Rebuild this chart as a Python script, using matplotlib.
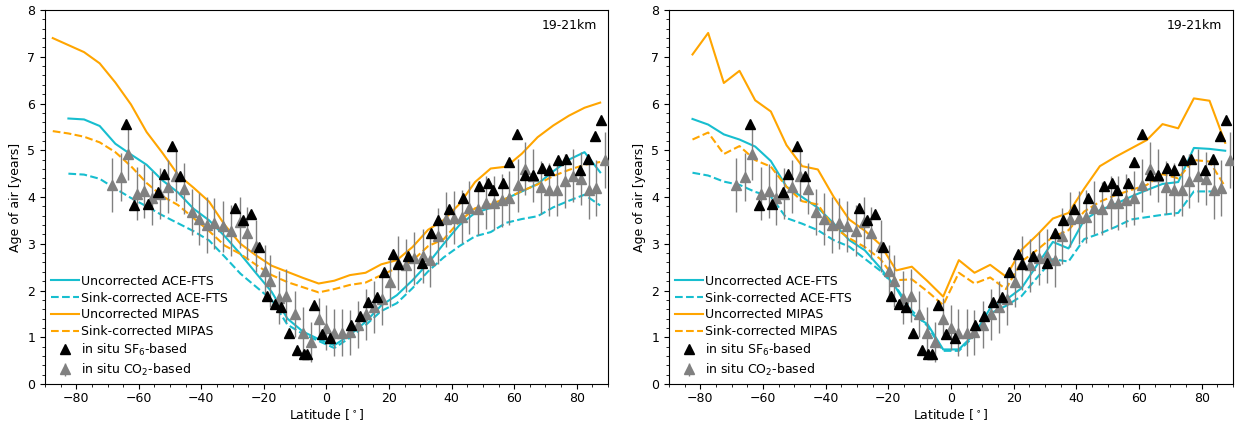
import matplotlib
matplotlib.use("Agg")
import matplotlib.pyplot as plt
from matplotlib.ticker import MultipleLocator

plt.rcParams['font.size'] = 9

# satellite zonal means, 5 degree bins
lat_left = [-87.5, -82.5, -77.5, -72.5, -67.5, -62.5, -57.5, -52.5, -47.5, -42.5, -37.5, -32.5,
            -27.5, -22.5, -17.5, -12.5, -7.5, -2.5, 2.5, 7.5, 12.5, 17.5, 22.5, 27.5, 32.5,
            37.5, 42.5, 47.5, 52.5, 57.5, 62.5, 67.5, 72.5, 77.5, 82.5, 87.5]
lat_ace = lat_left[1:]
lat_right = lat_left[1:]

# left panel
mipas_unc_l = [7.40, 7.25, 7.10, 6.86, 6.45, 5.98, 5.39, 4.95, 4.48, 4.20, 3.90, 3.40,
               3.00, 2.75, 2.53, 2.40, 2.27, 2.15, 2.21, 2.33, 2.38, 2.56, 2.65, 2.93,
               3.30, 3.51, 3.85, 4.32, 4.61, 4.65, 4.93, 5.28, 5.53, 5.74, 5.91, 6.02]
mipas_sink_l = [5.41, 5.36, 5.29, 5.17, 4.96, 4.66, 4.30, 4.02, 3.83, 3.55, 3.27, 2.96,
                2.78, 2.55, 2.33, 2.18, 2.07, 1.96, 2.03, 2.12, 2.17, 2.33, 2.48, 2.64,
                2.95, 3.10, 3.48, 3.76, 3.85, 3.97, 4.13, 4.27, 4.45, 4.58, 4.69, 4.75]
ace_unc_l = [5.68, 5.66, 5.52, 5.14, 4.91, 4.69, 4.36, 4.10, 3.75, 3.50, 3.16, 2.78,
             2.37, 1.97, 1.40, 1.12, 0.96, 0.83, 1.05, 1.33, 1.68, 1.90, 2.22, 2.58,
             3.00, 3.40, 3.66, 3.77, 3.97, 4.12, 4.28, 4.55, 4.80, 4.96, 4.53]
ace_sink_l = [4.50, 4.48, 4.39, 4.18, 3.98, 3.80, 3.61, 3.44, 3.27, 3.07, 2.72, 2.36,
              2.08, 1.80, 1.27, 1.07, 0.92, 0.77, 0.99, 1.26, 1.56, 1.73, 2.05, 2.41,
              2.71, 2.95, 3.16, 3.25, 3.45, 3.53, 3.59, 3.78, 3.92, 4.05, 3.82]

# right panel
mipas_unc_r = [7.05, 7.51, 6.44, 6.70, 6.07, 5.83, 5.11, 4.66, 4.59, 4.01, 3.52, 3.28,
               2.98, 2.43, 2.51, 2.20, 1.87, 2.65, 2.38, 2.55, 2.30, 2.87, 3.19, 3.54,
               3.66, 4.18, 4.66, 4.86, 5.04, 5.22, 5.56, 5.47, 6.11, 6.06, 5.16]
mipas_sink_r = [5.23, 5.38, 4.92, 5.09, 4.79, 4.65, 4.22, 3.91, 3.84, 3.36, 3.12, 2.93,
                2.67, 2.22, 2.24, 1.98, 1.69, 2.38, 2.15, 2.28, 2.03, 2.62, 2.87, 3.15,
                3.29, 3.69, 3.90, 4.04, 4.15, 4.26, 4.49, 4.40, 4.79, 4.76, 4.22]
ace_unc_r = [5.67, 5.55, 5.34, 5.23, 5.08, 4.77, 4.22, 4.00, 3.77, 3.44, 3.08, 2.86,
             2.48, 2.05, 1.50, 1.28, 0.74, 0.74, 1.07, 1.62, 1.80, 2.05, 2.55, 3.04,
             2.90, 3.51, 3.72, 3.85, 4.01, 4.15, 4.28, 4.32, 5.05, 5.03, 4.99]
ace_sink_r = [4.52, 4.46, 4.33, 4.26, 4.11, 4.01, 3.55, 3.43, 3.29, 3.08, 2.94, 2.68,
              2.42, 2.07, 1.57, 1.24, 0.71, 0.71, 1.03, 1.51, 1.67, 1.88, 2.28, 2.67,
              2.62, 3.10, 3.22, 3.36, 3.52, 3.57, 3.62, 3.66, 4.12, 4.12, 4.09]

# in situ balloon/aircraft data
sf6_lat = [-64.0, -61.4, -57.1, -53.7, -51.9, -49.3, -46.7, -29.3, -26.7, -24.1, -21.7, -19.0,
           -16.5, -14.4, -12.1, -9.4, -7.3, -6.2, -4.1, -1.5, 1.2, 7.7, 10.6, 13.3, 16.2,
           18.4, 21.3, 22.8, 26.1, 30.5, 33.3, 35.8, 39.2, 43.7, 48.8, 51.5, 53.1, 56.5,
           58.4, 60.9, 63.6, 66.1, 68.9, 71.3, 73.9, 76.6, 80.9, 83.6, 86.0, 87.8]
sf6_age = [5.57, 3.82, 3.85, 4.10, 4.49, 5.10, 4.46, 3.77, 3.50, 3.63, 2.94, 1.89,
           1.71, 1.65, 1.09, 0.73, 0.65, 0.65, 1.68, 1.07, 0.99, 1.26, 1.46, 1.75, 1.87,
           2.39, 2.79, 2.57, 2.74, 2.59, 3.22, 3.51, 3.75, 3.97, 4.23, 4.29, 4.16, 4.31,
           4.75, 5.34, 4.48, 4.48, 4.63, 4.57, 4.80, 4.81, 4.57, 4.82, 5.30, 5.64]

co2_lat = [-68.7, -65.7, -63.4, -60.7, -58.2, -55.7, -53.3, -50.7, -48.2, -45.7, -43.0, -40.6,
           -38.1, -35.8, -33.1, -30.4, -27.8, -25.4, -22.4, -19.8, -18.2, -15.3, -12.9, -10.2,
           -7.6, -5.1, -2.5, -0.1, 2.3, 5.0, 7.4, 10.1, 12.7, 15.2, 17.8, 20.3, 22.8, 25.3,
           28.0, 30.7, 33.1, 35.5, 38.1, 40.7, 43.2, 45.6, 48.3, 51.0, 53.4, 56.0, 58.4,
           61.1, 63.6, 66.1, 68.6, 71.1, 73.6, 76.1, 78.8, 81.4, 83.9, 86.2, 88.9]
co2_age = [4.26, 4.43, 4.93, 4.07, 4.13, 3.98, 4.07, 4.22, 4.46, 4.18, 3.68, 3.53,
           3.40, 3.44, 3.37, 3.28, 3.46, 3.23, 2.95, 2.42, 2.20, 1.85, 1.89, 1.50,
           1.10, 0.90, 1.40, 1.20, 1.10, 1.10, 1.11, 1.27, 1.49, 1.65, 1.82, 2.19, 2.59, 2.54,
           2.69, 2.74, 2.65, 3.16, 3.52, 3.56, 3.58, 3.77, 3.75, 3.88, 3.87, 3.93, 3.98,
           4.25, 4.61, 4.46, 4.21, 4.16, 4.16, 4.34, 4.46, 4.39, 4.14, 4.20, 4.80]
co2_err = [0.57, 0.52, 0.57, 0.57, 0.57, 0.57, 0.55, 0.57, 0.54, 0.55, 0.50, 0.55,
           0.60, 0.55, 0.55, 0.55, 0.55, 0.55, 0.55, 0.55, 0.55, 0.57, 0.57, 0.50,
           0.54, 0.43, 0.43, 0.48, 0.50, 0.50, 0.48, 0.50, 0.55, 0.55, 0.55, 0.55, 0.57, 0.57,
           0.57, 0.57, 0.57, 0.60, 0.59, 0.57, 0.57, 0.57, 0.57, 0.57, 0.57, 0.57, 0.57,
           0.57, 0.57, 0.57, 0.57, 0.57, 0.57, 0.57, 0.57, 0.57, 0.60, 0.60, 0.60]

ace_col = 'tab:cyan'
mipas_col = 'orange'


def draw_panel(ax, lat_m, m_unc, m_sink, lat_a, a_unc, a_sink):
    ax.plot(lat_a, a_unc, color=ace_col, lw=1.5, label='Uncorrected ACE-FTS')
    ax.plot(lat_a, a_sink, color=ace_col, lw=1.5, ls='--', label='Sink-corrected ACE-FTS')
    ax.plot(lat_m, m_unc, color=mipas_col, lw=1.5, label='Uncorrected MIPAS')
    ax.plot(lat_m, m_sink, color=mipas_col, lw=1.5, ls='--', label='Sink-corrected MIPAS')
    ax.plot(sf6_lat, sf6_age, '^', color='black', ms=6.5, ls='none', zorder=4,
            label='in situ SF$_6$-based')
    ax.errorbar(co2_lat, co2_age, yerr=co2_err, fmt='^', color='grey', ecolor='grey',
                elinewidth=1, ms=6.5, zorder=3, label='in situ CO$_2$-based')

    ax.set_xlim(-90, 90)
    ax.set_ylim(0, 8)
    ax.xaxis.set_major_locator(MultipleLocator(20))
    ax.xaxis.set_minor_locator(MultipleLocator(5))
    ax.yaxis.set_major_locator(MultipleLocator(1))
    ax.yaxis.set_minor_locator(MultipleLocator(0.2))
    ax.tick_params(axis='x', pad=2.5)
    ax.set_xlabel(r'Latitude [$^\circ$]', labelpad=1)
    ax.set_ylabel('Age of air [years]')
    ax.text(0.98, 0.975, '19-21km', transform=ax.transAxes, ha='right', va='top')
    ax.legend(loc='lower left', frameon=False, borderaxespad=0.1, handletextpad=0.2,
              labelspacing=0.3, handlelength=2.2)


fig = plt.figure(figsize=(12.35, 4.24), dpi=100)
ax1 = fig.add_axes([0.0364, 0.0943, 0.4559, 0.882])
ax2 = fig.add_axes([0.5417, 0.0943, 0.4567, 0.882])

draw_panel(ax1, lat_left, mipas_unc_l, mipas_sink_l, lat_ace, ace_unc_l, ace_sink_l)
draw_panel(ax2, lat_right, mipas_unc_r, mipas_sink_r, lat_ace, ace_unc_r, ace_sink_r)

plt.savefig('out.png', dpi=100)
